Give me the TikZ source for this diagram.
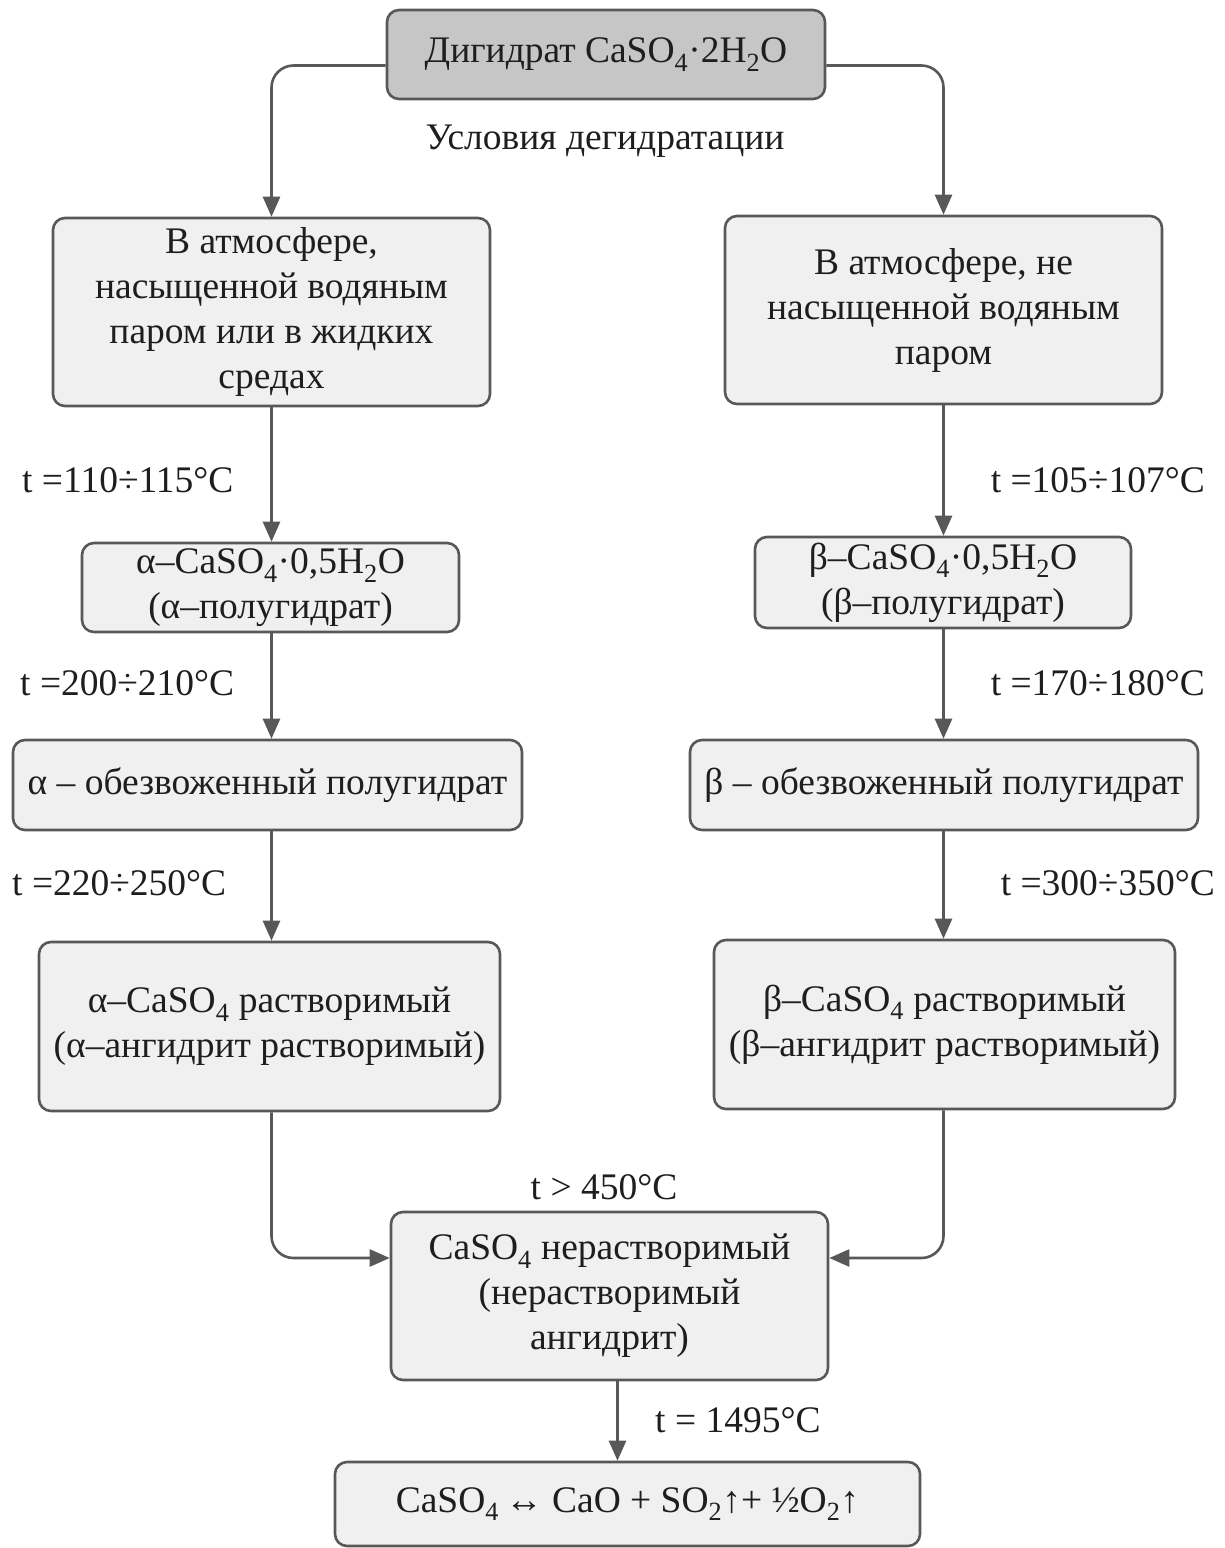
\documentclass[tikz,border=0pt]{standalone}
\usepackage{fontspec}
\setmainfont{Liberation Serif}
\usetikzlibrary{arrows.meta}
\definecolor{boxfill}{HTML}{F0F0F0}
\definecolor{topfill}{HTML}{C6C6C6}
\definecolor{edge}{HTML}{585858}
\definecolor{txt}{HTML}{1E1E1E}
\newcommand{\sub}[1]{\textsubscript{#1}}
\begin{document}
\begin{tikzpicture}[x=1pt,y=-1pt,
  every node/.style={font=\fontsize{37.5}{45}\selectfont, text=txt},
  box/.style={draw=edge, line width=2.6pt, fill=boxfill, rounded corners=12pt, align=center, inner sep=0pt},
  lbl/.style={inner sep=0pt},
  conn/.style={draw=edge, line width=2.6pt, -{Triangle[length=20pt,width=17pt]}, rounded corners=22pt}]
\useasboundingbox (0,0) rectangle (1225,1548);
\fill[white] (0,0) rectangle (1225,1548);
% boxes
\node[box, fill=topfill, minimum width=438pt, minimum height=89pt] (top) at (606,54.5) {Дигидрат CaSO\sub{4}·2H\sub{2}O};
\node[lbl] (cond) at (605,141) {Условия дегидратации};
\node[box, minimum width=437pt, minimum height=188pt] (L1) at (271.5,312) {В атмосфере,\\ насыщенной водяным\\ паром или в жидких\\ средах};
\node[box, minimum width=437pt, minimum height=188pt] (R1) at (943.5,310) {В атмосфере, не\\ насыщенной водяным\\ паром};
\node[box, minimum width=377pt, minimum height=89pt] (L2) at (270.5,587.5) {α–CaSO\sub{4}·0,5H\sub{2}O\\ (α–полугидрат)};
\node[box, minimum width=376pt, minimum height=91pt] (R2) at (943,582.5) {β–CaSO\sub{4}·0,5H\sub{2}O\\ (β–полугидрат)};
\node[box, minimum width=509pt, minimum height=90pt] (L3) at (267.5,785) {α – обезвоженный полугидрат};
\node[box, minimum width=508pt, minimum height=90pt] (R3) at (944,785) {β – обезвоженный полугидрат};
\node[box, minimum width=461pt, minimum height=169pt] (L4) at (269.5,1026.5) {α–CaSO\sub{4} растворимый\\ (α–ангидрит растворимый)};
\node[box, minimum width=461pt, minimum height=169pt] (R4) at (944.5,1024.5) {β–CaSO\sub{4} растворимый\\ (β–ангидрит растворимый)};
\node[box, minimum width=437pt, minimum height=168pt] (B) at (609.5,1296) {CaSO\sub{4} нерастворимый\\ (нерастворимый\\ ангидрит)};
\node[box, minimum width=585pt, minimum height=84pt] (F) at (627.5,1504) {CaSO\sub{4}\,↔ CaO + SO\sub{2}↑+ ½O\sub{2}↑};
% labels
\node[lbl, anchor=west] (t1) at (22,480) {t =110÷115°C};
\node[lbl, anchor=east] (t2) at (1205,480) {t =105÷107°C};
\node[lbl, anchor=west] (t3) at (20,683) {t =200÷210°C};
\node[lbl, anchor=east] (t4) at (1205,683) {t =170÷180°C};
\node[lbl, anchor=west] (t5) at (12,883) {t =220÷250°C};
\node[lbl, anchor=east] (t6) at (1215,883) {t =300÷350°C};
\node[lbl] (t7) at (604,1187) {t > 450°C};
\node[lbl, anchor=west] (t8) at (655,1420) {t = 1495°C};
% connectors
\draw[conn] ([yshift=-11pt]top.west) -| (L1.north);
\draw[conn] ([yshift=-11pt]top.east) -| (R1.north);
\draw[conn] (L1.south) -- (L2.north -| L1.south);
\draw[conn] (R1.south) -- (R2.north -| R1.south);
\draw[conn] (L2.south -| L1.south) -- (L3.north -| L1.south);
\draw[conn] (R2.south -| R1.south) -- (R3.north -| R1.south);
\draw[conn] (L3.south -| L1.south) -- (L4.north -| L1.south);
\draw[conn] (R3.south -| R1.south) -- (R4.north -| R1.south);
\draw[conn] (L4.south -| L1.south) |- ([yshift=38pt]B.west);
\draw[conn] (R4.south -| R1.south) |- ([yshift=38pt]B.east);
\draw[conn] ([xshift=8pt]B.south) -- ([xshift=-10pt]F.north);
\end{tikzpicture}
\end{document}
